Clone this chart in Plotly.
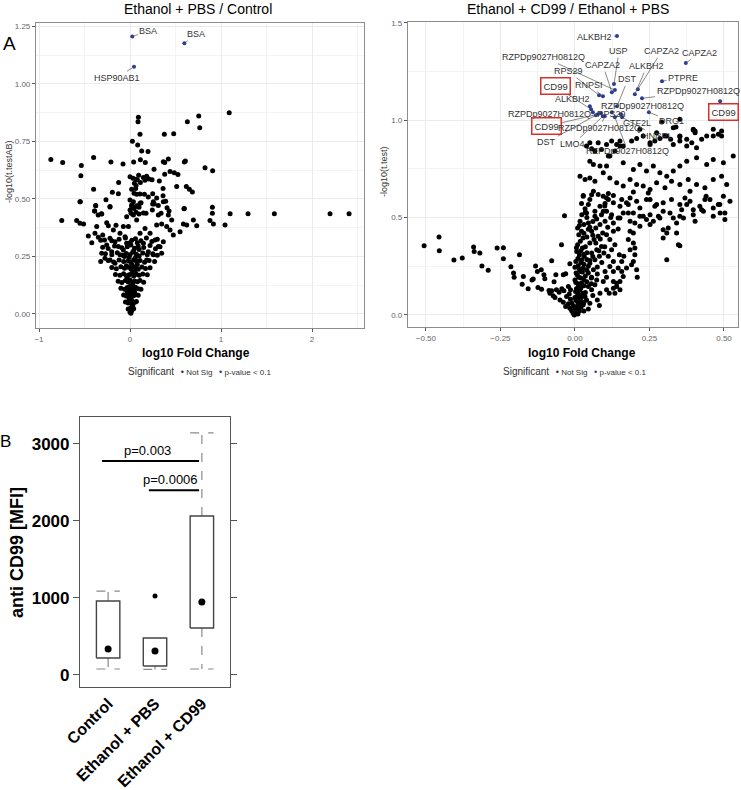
import plotly.graph_objects as go

# ---------------- DATA ----------------
# Panel A left: Ethanol + PBS / Control  (log10 FC, -log10 p)
left_points = [
    (-0.87, 0.672), (-0.74, 0.659), (-0.535, 0.645), (-0.54, 0.601), (-0.40, 0.680), (-0.40, 0.542),
    (-0.546, 0.488), (-0.21, 0.661), (-0.077, 0.652), (-0.125, 0.572), (-0.194, 0.529), (-0.128, 0.523),
    (-0.264, 0.497), (-0.377, 0.471), (-0.22, 0.465), (-0.388, 0.448), (-0.315, 0.436),
    (0.092, 0.855), (0.088, 0.836), (0.11, 0.781), (0.026, 0.751), (0.084, 0.735), (0.128, 0.709),
    (0.198, 0.706), (0.04, 0.661), (0.114, 0.670), (0.168, 0.659), (0.264, 0.629), (0.377, 0.781),
    (0.48, 0.784), (0.63, 0.836), (0.755, 0.861), (0.766, 0.81), (1.09, 0.875), (0.366, 0.662),
    (0.381, 0.658), (0.421, 0.674), (0.597, 0.661), (0.608, 0.665), (0.824, 0.636), (0.908, 0.623),
    (0.381, 0.607), (0.44, 0.619), (0.487, 0.614), (0.527, 0.606), (0.513, 0.554), (0.619, 0.554),
    (0.652, 0.542), (0.685, 0.530), (0.597, 0.458), (0.905, 0.464), (0.905, 0.438), (1.10, 0.436),
    (1.297, 0.436), (1.586, 0.436), (2.198, 0.436), (2.407, 0.436),
    (0.0, 0.597), (0.033, 0.590), (0.066, 0.586), (0.095, 0.603), (0.081, 0.583), (0.147, 0.593),
    (0.183, 0.599), (0.209, 0.587), (0.242, 0.583), (0.322, 0.578), (0.048, 0.568), (0.114, 0.572),
    (0.165, 0.581), (0.066, 0.558), (0.018, 0.542), (0.062, 0.546), (0.044, 0.525), (0.073, 0.520),
    (0.11, 0.522), (0.158, 0.520), (0.201, 0.509), (0.249, 0.523), (0.293, 0.504), (0.256, 0.488),
    (0.267, 0.478), (0.363, 0.546), (0.363, 0.514), (0.392, 0.490), (0.311, 0.472), (0.407, 0.462),
    (0.341, 0.438), (0.429, 0.448), (0.0, 0.496), (0.018, 0.467), (0.044, 0.459), (0.073, 0.470),
    (0.099, 0.464), (0.121, 0.483), (0.011, 0.438), (0.066, 0.442), (0.099, 0.435), (0.147, 0.439),
    (0.176, 0.438), (0.245, 0.452),
    (-0.75, 0.406), (-0.586, 0.406), (-0.55, 0.394), (-0.51, 0.391), (-0.55, 0.488), (-0.377, 0.472),
    (-0.39, 0.448), (-0.35, 0.43), (-0.31, 0.435), (-0.22, 0.467), (-0.366, 0.38), (-0.256, 0.397),
    (-0.238, 0.383), (-0.154, 0.386), (-0.458, 0.339), (-0.42, 0.31), (-0.385, 0.351), (-0.348, 0.333),
    (-0.30, 0.343), (-0.322, 0.32), (-0.183, 0.365), (-0.22, 0.329), (-0.165, 0.314), (-0.11, 0.351),
    (-0.055, 0.336), (-0.128, 0.293), (-0.201, 0.271), (-0.256, 0.30), (-0.311, 0.264), (-0.322, 0.228),
    (-0.275, 0.242), (-0.22, 0.235), (-0.165, 0.22), (-0.11, 0.257), (-0.073, 0.278), (-0.037, 0.307),
    (0.11, 0.481), (0.249, 0.478), (0.366, 0.488), (0.593, 0.457), (0.879, 0.406), (0.916, 0.391),
    (1.044, 0.387), (0.696, 0.409), (0.733, 0.383), (0.586, 0.391), (0.623, 0.387), (0.55, 0.357),
    (0.476, 0.343), (0.44, 0.365), (0.403, 0.38), (0.348, 0.391), (0.311, 0.43), (0.293, 0.387),
    (0.421, 0.43), (0.458, 0.409), (0.366, 0.314), (0.311, 0.293), (0.348, 0.264), (0.256, 0.257),
    (0.183, 0.235), (0.201, 0.271), (0.275, 0.322), (0.147, 0.307), (0.11, 0.351), (0.22, 0.351),
    (0.165, 0.372), (0.073, 0.409), (0.037, 0.43), (-0.037, 0.423), (0.0, 0.452), (-0.073, 0.38),
    (-0.018, 0.38), (0.018, 0.474), (0.066, 0.467), (0.037, 0.488),
    (-0.28, 0.322), (-0.2, 0.318), (-0.12, 0.325), (-0.05, 0.33), (0.02, 0.321), (0.06, 0.327),
    (0.12, 0.318), (0.18, 0.33), (0.24, 0.315), (0.3, 0.325),
    (-0.3, 0.29), (-0.24, 0.285), (-0.17, 0.296), (-0.09, 0.288), (-0.03, 0.292), (0.01, 0.3),
    (0.05, 0.286), (0.09, 0.295), (0.15, 0.289), (0.22, 0.298), (0.28, 0.284), (0.33, 0.292),
    (-0.27, 0.262), (-0.2, 0.258), (-0.14, 0.266), (-0.08, 0.255), (-0.04, 0.263), (0.0, 0.257),
    (0.03, 0.268), (0.07, 0.26), (0.1, 0.252), (0.14, 0.265), (0.19, 0.258), (0.25, 0.262), (0.3, 0.255),
    (-0.24, 0.232), (-0.18, 0.226), (-0.12, 0.235), (-0.07, 0.228), (-0.02, 0.231), (0.01, 0.224),
    (0.04, 0.236), (0.07, 0.229), (0.11, 0.233), (0.16, 0.225), (0.21, 0.232), (0.27, 0.228),
    (-0.2, 0.202), (-0.15, 0.197), (-0.1, 0.205), (-0.06, 0.199), (-0.02, 0.203), (0.01, 0.196),
    (0.03, 0.207), (0.06, 0.2), (0.09, 0.194), (0.13, 0.204), (0.17, 0.198), (0.22, 0.201),
    (-0.16, 0.172), (-0.11, 0.168), (-0.07, 0.175), (-0.04, 0.166), (-0.01, 0.171), (0.02, 0.177),
    (0.04, 0.165), (0.07, 0.173), (0.1, 0.168), (0.14, 0.174), (0.19, 0.17),
    (-0.13, 0.142), (-0.09, 0.137), (-0.05, 0.145), (-0.02, 0.139), (0.0, 0.148), (0.03, 0.136),
    (0.05, 0.143), (0.08, 0.14), (0.11, 0.146), (0.15, 0.138),
    (-0.1, 0.112), (-0.06, 0.108), (-0.03, 0.115), (-0.01, 0.106), (0.02, 0.113), (0.04, 0.109),
    (0.06, 0.116), (0.09, 0.11), (0.12, 0.107),
    (-0.07, 0.082), (-0.04, 0.078), (-0.02, 0.085), (0.0, 0.077), (0.02, 0.083), (0.04, 0.079),
    (0.06, 0.086), (0.09, 0.081),
    (-0.05, 0.052), (-0.02, 0.048), (0.0, 0.055), (0.02, 0.047), (0.03, 0.053), (0.05, 0.05), (0.07, 0.054),
    (-0.02, 0.022), (0.0, 0.018), (0.01, 0.027), (0.02, 0.015), (0.04, 0.023), (0.0, 0.008), (0.01, 0.003),
    (0.0, 0.12), (0.03, 0.125), (-0.03, 0.155), (0.05, 0.185), (0.02, 0.215), (-0.01, 0.245),
    (0.04, 0.275), (0.0, 0.31), (0.08, 0.31), (0.06, 0.245), (0.08, 0.215), (-0.04, 0.21),
    (-0.06, 0.25), (0.1, 0.28), (0.02, 0.06), (0.03, 0.035), (-0.01, 0.065), (0.05, 0.095),
    (0.01, 0.095), (-0.03, 0.095),
]
left_sig_x = [0.025, 0.597, 0.044]
left_sig_y = [1.206, 1.177, 1.075]
left_sig_labels = ["BSA", "BSA", "HSP90AB1"]

# Panel A right: Ethanol + CD99 / Ethanol + PBS
right_points = [
    (-0.506, 0.356), (-0.456, 0.40), (-0.455, 0.33), (-0.406, 0.282), (-0.378, 0.292), (-0.34, 0.349),
    (-0.338, 0.326), (-0.319, 0.318), (-0.312, 0.251), (-0.291, 0.23), (-0.261, 0.344), (-0.24, 0.345),
    (-0.24, 0.289), (-0.215, 0.247), (-0.206, 0.215), (-0.204, 0.194), (-0.186, 0.309), (-0.173, 0.198),
    (-0.177, 0.158), (-0.157, 0.134), (-0.144, 0.18), (-0.14, 0.184), (-0.132, 0.251), (-0.126, 0.223),
    (-0.124, 0.141), (-0.112, 0.132), (-0.113, 0.232), (-0.104, 0.206), (-0.101, 0.186), (-0.087, 0.125),
    (-0.078, 0.124), (-0.084, 0.112), (-0.073, 0.098), (-0.067, 0.089), (-0.078, 0.278), (-0.07, 0.17),
    (-0.064, 0.206), (-0.062, 0.129), (-0.053, 0.117), (-0.044, 0.134), (-0.037, 0.124), (-0.045, 0.361),
    (-0.039, 0.206), (-0.031, 0.211), (-0.035, 0.51), (-0.05, 0.077), (-0.039, 0.065), (-0.031, 0.043),
    (-0.022, 0.057), (-0.017, 0.034), (-0.011, 0.022), (-0.006, 0.009), (-0.002, 0.0), (-0.028, 0.095),
    (-0.019, 0.108), (-0.015, 0.129), (-0.022, 0.146), (-0.017, 0.263),
    (0.0, 0.026), (0.006, 0.043), (0.011, 0.06), (0.003, 0.077), (0.017, 0.086), (0.022, 0.069),
    (0.028, 0.052), (0.009, 0.098), (0.002, 0.12), (0.017, 0.129), (0.026, 0.112), (0.034, 0.094),
    (0.039, 0.077), (0.011, 0.146), (0.003, 0.167), (0.022, 0.163), (0.03, 0.18), (0.013, 0.194),
    (0.004, 0.215), (0.019, 0.223), (0.028, 0.241), (0.011, 0.253), (0.003, 0.275), (0.023, 0.283),
    (0.031, 0.301), (0.015, 0.309), (0.006, 0.326), (0.025, 0.344), (0.009, 0.361), (0.018, 0.378),
    (0.027, 0.395), (0.013, 0.412), (0.022, 0.43), (0.009, 0.447), (0.03, 0.464), (0.017, 0.481),
    (0.023, 0.515), (0.035, 0.527), (0.022, 0.572), (0.028, 0.613), (0.056, 0.618), (0.062, 0.636),
    (0.034, 0.545), (0.045, 0.567), (0.045, 0.146), (0.056, 0.129), (0.067, 0.155), (0.073, 0.18),
    (0.056, 0.194), (0.045, 0.215), (0.062, 0.232), (0.075, 0.246), (0.05, 0.266), (0.067, 0.283),
    (0.082, 0.301), (0.056, 0.318), (0.073, 0.335), (0.089, 0.352), (0.05, 0.369), (0.064, 0.387),
    (0.078, 0.404), (0.093, 0.421), (0.056, 0.43), (0.07, 0.447), (0.084, 0.464), (0.101, 0.481),
    (0.073, 0.493), (0.089, 0.515), (0.106, 0.533), (0.084, 0.558), (0.101, 0.572), (0.112, 0.593),
    (0.095, 0.61), (0.112, 0.624), (0.129, 0.613), (0.067, 0.533), (0.045, 0.472), (0.084, 0.112),
    (0.082, 0.048), (0.075, 0.077), (0.095, 0.172), (0.106, 0.194), (0.101, 0.223), (0.117, 0.249),
    (0.129, 0.275), (0.112, 0.301), (0.097, 0.318), (0.123, 0.335), (0.134, 0.361), (0.117, 0.387),
    (0.106, 0.412), (0.129, 0.43), (0.145, 0.442), (0.129, 0.472), (0.145, 0.498), (0.162, 0.524),
    (0.151, 0.558), (0.173, 0.576), (0.185, 0.601), (0.196, 0.631), (0.151, 0.172), (0.14, 0.146),
    (0.129, 0.137), (0.162, 0.198), (0.157, 0.223), (0.173, 0.241), (0.19, 0.258), (0.196, 0.275),
    (0.207, 0.232), (0.209, 0.194), (0.201, 0.309), (0.185, 0.335), (0.201, 0.344), (0.196, 0.369),
    (0.179, 0.387), (0.196, 0.421), (0.185, 0.43), (0.218, 0.455), (0.201, 0.472), (0.185, 0.481),
    (0.196, 0.524), (0.218, 0.55), (0.229, 0.507), (0.24, 0.49), (0.252, 0.464), (0.263, 0.481),
    (0.274, 0.567), (0.252, 0.593), (0.246, 0.627), (0.28, 0.507), (0.296, 0.533), (0.296, 0.438),
    (0.308, 0.421), (0.296, 0.395), (0.313, 0.447), (0.33, 0.498), (0.341, 0.472), (0.341, 0.421),
    (0.347, 0.361), (0.352, 0.356), (0.308, 0.283), (0.358, 0.541), (0.364, 0.498), (0.375, 0.567),
    (0.397, 0.541), (0.403, 0.481), (0.425, 0.541), (0.436, 0.593), (0.44, 0.61), (0.464, 0.55),
    (0.481, 0.567), (0.487, 0.524), (0.498, 0.61), (0.503, 0.49), (0.386, 0.636), (0.369, 0.601),
    (0.14, 0.163), (0.151, 0.129), (0.134, 0.112), (0.129, 0.172), (0.145, 0.241), (0.157, 0.275),
    (0.164, 0.301), (0.149, 0.309), (0.129, 0.223), (0.106, 0.129), (0.115, 0.112),
    (0.01, 0.005), (0.0, 0.015), (0.015, 0.02), (0.005, 0.035), (0.02, 0.04), (0.012, 0.05),
    (-0.005, 0.045), (0.03, 0.065), (0.008, 0.07), (0.018, 0.085), (0.0, 0.09), (0.025, 0.1),
    (0.01, 0.11), (0.035, 0.115), (0.005, 0.135), (0.02, 0.14), (0.03, 0.15), (0.012, 0.16),
    (0.04, 0.17), (0.0, 0.18), (0.02, 0.19), (0.035, 0.2), (0.008, 0.205), (0.025, 0.22),
    (0.04, 0.23), (0.015, 0.235), (0.0, 0.245), (0.03, 0.26), (0.02, 0.27), (0.04, 0.285),
    (0.01, 0.29), (0.03, 0.31), (0.04, 0.32), (0.02, 0.33), (0.035, 0.35), (0.005, 0.345),
    (0.04, 0.4), (0.03, 0.42), (0.045, 0.44), (0.015, 0.46), (0.04, 0.5), (0.06, 0.48),
    (0.05, 0.45), (0.06, 0.41), (0.07, 0.37), (0.08, 0.33), (0.06, 0.3), (0.05, 0.28),
    (0.045, 0.25), (0.055, 0.16), (0.06, 0.1), (0.05, 0.06), (0.045, 0.03), (-0.01, 0.06),
    (-0.015, 0.08), (0.03, 0.02), (0.055, 0.19), (0.075, 0.21), (0.09, 0.27), (0.1, 0.35),
    (0.085, 0.39), (0.11, 0.45), (0.12, 0.5), (0.1, 0.56),
    (0.339, 0.966), (0.352, 0.916), (0.397, 0.95), (0.403, 0.936), (0.464, 0.954), (0.481, 0.928),
    (0.492, 0.945), (0.33, 0.876), (0.352, 0.893), (0.375, 0.868), (0.392, 0.885), (0.408, 0.859),
    (0.425, 0.902), (0.442, 0.919), (0.308, 0.919), (0.321, 0.902), (0.274, 0.936), (0.285, 0.906),
    (0.252, 0.876), (0.268, 0.893), (0.218, 0.954), (0.229, 0.919), (0.19, 0.893), (0.207, 0.906),
    (0.151, 0.893), (0.162, 0.868), (0.14, 0.876), (0.106, 0.876), (0.123, 0.893), (0.05, 0.885),
    (0.078, 0.885), (0.067, 0.842), (0.089, 0.85), (0.112, 0.816), (0.05, 0.79), (0.062, 0.773),
    (0.084, 0.765), (0.106, 0.765), (0.162, 0.782), (0.196, 0.747), (0.218, 0.773), (0.24, 0.739),
    (0.263, 0.765), (0.285, 0.73), (0.308, 0.713), (0.33, 0.739), (0.352, 0.765), (0.375, 0.79),
    (0.408, 0.808), (0.442, 0.773), (0.464, 0.799), (0.498, 0.782), (0.531, 0.816), (0.017, 0.713),
    (0.034, 0.696), (0.05, 0.704), (0.067, 0.687), (0.095, 0.73), (0.117, 0.704), (0.14, 0.679),
    (0.162, 0.662), (0.185, 0.696), (0.207, 0.67), (0.229, 0.662), (0.252, 0.644), (0.274, 0.679),
    (0.302, 0.653), (0.324, 0.687), (0.352, 0.67), (0.38, 0.696), (0.408, 0.67), (0.436, 0.653),
    (0.464, 0.696), (0.492, 0.713), (0.509, 0.67), (0.028, 0.61), (0.05, 0.593), (0.078, 0.619),
    (0.106, 0.601), (0.129, 0.576), (0.157, 0.593), (0.179, 0.567), (0.207, 0.584), (0.24, 0.593),
    (0.268, 0.558), (0.296, 0.576), (0.324, 0.593), (0.352, 0.567), (0.386, 0.584), (0.419, 0.558),
    (0.453, 0.593), (0.486, 0.567), (0.52, 0.584), (0.039, 0.524), (0.067, 0.507), (0.095, 0.533),
    (0.123, 0.515), (0.151, 0.498), (0.179, 0.524), (0.218, 0.507), (0.252, 0.515), (0.285, 0.498),
    (0.319, 0.524), (0.352, 0.507), (0.397, 0.515), (0.431, 0.533), (0.464, 0.507), (0.503, 0.524),
    (0.291, 0.991), (0.33, 0.962), (0.352, 1.005), (0.397, 0.954), (0.403, 0.945), (0.464, 0.919),
    (0.492, 0.919), (0.352, 0.919), (0.375, 0.902), (0.302, 0.919), (0.252, 0.885), (0.151, 0.868),
    (0.134, 0.842), (0.117, 0.816), (0.039, 0.868), (0.056, 0.854),
]
right_sig_labels = ["ALKBH2", "RZPDp9027H0812Q", "USP", "CAPZA2", "CAPZA2", "CAPZA2", "ALKBH2", "DST",
                    "PTPRE", "RPS29", "RNPSI", "RZPDp9027H0812Q", "ALKBH2", "CD99", "RZPDp9027H0812Q",
                    "CD99", "RZPDp9027H0812Q", "RPS29", "GTF2L", "DRG1", "CD99", "RZPDp9027H0812Q",
                    "DST", "LMO4", "HNRPL", "RZPDp9027H0812Q"]
right_sig_x = [0.141, 0.134, 0.131, 0.124, 0.211, 0.372, 0.201, 0.141, 0.292, 0.081, 0.094, 0.225, 0.05,
               0.054, 0.124, 0.487, 0.06, 0.087, 0.154, 0.248, 0.077, 0.10, 0.07, 0.094, 0.158, 0.134]
right_sig_y = [1.433, 1.155, 1.186, 1.144, 1.160, 1.294, 1.134, 1.072, 1.201, 1.129, 1.124, 1.113, 1.072,
               1.057, 1.041, 1.098, 1.041, 1.036, 1.031, 1.041, 1.031, 1.021, 1.026, 1.021, 1.015, 1.015]
# label offsets (pixels) from each point
right_label_dx = [-22, -71, 5, -9, 24, 14, 12, 11, 21, -31, -14, 56, -17, -36, 31, 3, -43, 11, 16, 23, -51, -5, -49, -30, 35, 13]
right_label_dy = [1, -33, -33, -27, -38, -10, -28, -27, -3, -24, -11, -7, -7, -23, -6, 11, 2, 1, 9, 9, 12, 12, 27, 28, 19, 34]

# Panel B: box plot summary (anti CD99 MFI)
groups = ["Control", "Ethanol + PBS", "Ethanol + CD99"]
box_q1 = [220, 117, 610]
box_q3 = [961, 480, 2065]
whisk_lo = [78, 72, 78]
whisk_hi = [1090, 480, 3143]
center_pt = [337, 312, 948]
outliers = [[], [1026], []]
brackets = [(1, 3, 2780, "p=0.003"), (2, 3, 2400, "p=0.0006")]

# ---------------- FIGURE ----------------
W, H = 741, 790
FONT = "Liberation Sans, Arial, sans-serif"
BLUE = "#2b3d8f"
GRID = "#ebebeb"
MINOR = "#f4f4f4"
BORDER = "#8c8c8c"

fig = go.Figure()

def px_x(p):
    return p / W

def px_y(p):
    return 1 - p / H

lx = [p[0] for p in left_points]
ly = [p[1] for p in left_points]
rx = [p[0] for p in right_points]
ry = [p[1] for p in right_points]

fig.add_trace(go.Scatter(x=lx, y=ly, mode="markers", name="Not Sig", xaxis="x", yaxis="y",
                         marker=dict(color="black", size=5), showlegend=False))
fig.add_trace(go.Scatter(x=left_sig_x, y=left_sig_y, mode="markers", name="p-value < 0.1", xaxis="x", yaxis="y",
                         marker=dict(color=BLUE, size=4), showlegend=False))
fig.add_trace(go.Scatter(x=rx, y=ry, mode="markers", name="Not Sig", xaxis="x2", yaxis="y2",
                         marker=dict(color="black", size=5), showlegend=False))
fig.add_trace(go.Scatter(x=right_sig_x, y=right_sig_y, mode="markers", name="p-value < 0.1", xaxis="x2", yaxis="y2",
                         marker=dict(color=BLUE, size=4), showlegend=False))

# Box plot traces
bw = 0.25
box_x, box_y, wh_x, wh_y = [], [], [], []
for i, g in enumerate(groups):
    c = i + 1
    box_x += [c - bw, c + bw, c + bw, c - bw, c - bw, None]
    box_y += [box_q1[i], box_q1[i], box_q3[i], box_q3[i], box_q1[i], None]
    wh_x += [c, c, None, c - bw, c + bw, None]
    wh_y += [box_q1[i], whisk_lo[i], None, whisk_lo[i], whisk_lo[i], None]
    if whisk_hi[i] > box_q3[i]:
        wh_x += [c, c, None, c - bw, c + bw, None]
        wh_y += [box_q3[i], whisk_hi[i], None, whisk_hi[i], whisk_hi[i], None]

fig.add_trace(go.Scatter(x=wh_x, y=wh_y, mode="lines", xaxis="x3", yaxis="y3", showlegend=False,
                         line=dict(color="#8a8a8a", width=1.2, dash="dash")))
fig.add_trace(go.Scatter(x=box_x, y=box_y, mode="lines", xaxis="x3", yaxis="y3", showlegend=False,
                         line=dict(color="#444444", width=1.4)))
fig.add_trace(go.Scatter(x=[1, 2, 3], y=center_pt, mode="markers", xaxis="x3", yaxis="y3", showlegend=False,
                         marker=dict(color="black", size=7)))
ox, oy = [], []
for i, lst in enumerate(outliers):
    for v in lst:
        ox.append(i + 1)
        oy.append(v)
fig.add_trace(go.Scatter(x=ox, y=oy, mode="markers", xaxis="x3", yaxis="y3", showlegend=False,
                         marker=dict(color="black", size=5)))
# significance brackets
bx, by = [], []
for (g1, g2, yv, t) in brackets:
    bx += [g1 - 0.13, g2 - 0.06, None]
    by += [yv, yv, None]
fig.add_trace(go.Scatter(x=bx, y=by, mode="lines", xaxis="x3", yaxis="y3", showlegend=False,
                         line=dict(color="black", width=2)))

annotations = []
# bracket labels
for (g1, g2, yv, t) in brackets:
    annotations.append(dict(x=(g1 + g2) / 2 - 0.15 if g1 == 1 else (g1 + g2) / 2 - 0.18, y=yv, xref="x3", yref="y3",
                            text=t, showarrow=False, xanchor="center", yanchor="bottom", yshift=1,
                            font=dict(family=FONT, size=13, color="black")))

# left labels
left_dx = [16, 12, -17]
left_dy = [-6, -9, 11]
for x, y, t, dx, dy in zip(left_sig_x, left_sig_y, left_sig_labels, left_dx, left_dy):
    annotations.append(dict(x=x, y=y, xref="x", yref="y", text=t, showarrow=True, arrowhead=0,
                            arrowwidth=0.7, arrowcolor="#555", ax=dx, ay=dy, standoff=1,
                            font=dict(family=FONT, size=9, color="#333")))
# right labels
for x, y, t, dx, dy in zip(right_sig_x, right_sig_y, right_sig_labels, right_label_dx, right_label_dy):
    a = dict(x=x, y=y, xref="x2", yref="y2", text=t, showarrow=True, arrowhead=0,
             arrowwidth=0.7, arrowcolor="#555", ax=dx, ay=dy, standoff=1,
             font=dict(family=FONT, size=9, color="#333"))
    if t == "CD99":
        a.update(bordercolor="#d9302c", borderwidth=1.5, borderpad=2, font=dict(family=FONT, size=9.5, color="#333"))
    annotations.append(a)

legend_text = ("<span style='font-size:10px'>Significant</span>   "
               "<span style='font-size:9px'>\u2022</span> Not Sig   "
               "<span style='font-size:9px;color:%s'>\u2022</span> p-value &lt; 0.1" % BLUE)

def pa(x, y, text, size, color="black", angle=0):
    return dict(x=px_x(x), y=px_y(y), xref="paper", yref="paper", text=text, showarrow=False,
                xanchor="center", yanchor="middle", textangle=angle,
                font=dict(family=FONT, size=size, color=color))

# Titles and axis titles
annotations += [
    pa(198, 9, "Ethanol + PBS / Control", 14),
    pa(568, 9, "Ethanol + CD99 / Ethanol + PBS", 14),
    pa(9, 44, "A", 19),
    pa(5, 441, "B", 17),
    pa(9, 172, "-log10(t.testAB)", 9, "#333", -90),
    pa(384, 172, "-log10(t.test)", 9, "#333", -90),
    pa(196, 353, "<b>log10 Fold Change</b>", 12),
    pa(582, 353, "<b>log10 Fold Change</b>", 12),
    pa(200, 371, legend_text, 8, "#333"),
    pa(575, 371, legend_text, 8, "#333"),
    pa(17, 553, "<b>anti CD99 [MFI]</b>", 18, "black", -90),
]

def volcano_axes(dom, rng, dtick, minor_dtick, fmt, anchor):
    return dict(domain=dom, range=rng, dtick=dtick, tick0=0, tickformat=fmt, showgrid=True,
                gridcolor=GRID, gridwidth=1, zeroline=False, showline=True, mirror=True,
                linecolor=BORDER, linewidth=1.2, ticks="outside", ticklen=3, tickcolor="#555",
                tickfont=dict(family=FONT, size=8, color="#666"), anchor=anchor, automargin=False,
                minor=dict(dtick=minor_dtick, tick0=0, showgrid=True, gridcolor=MINOR, gridwidth=0.6, ticklen=0))

fig.update_layout(
    width=W, height=H, margin=dict(l=0, r=0, t=0, b=0, autoexpand=False),
    paper_bgcolor="white", plot_bgcolor="white", showlegend=False,
    xaxis=volcano_axes([px_x(36), px_x(364)], [-1.033, 2.571], 1, 0.5, "d", "y"),
    yaxis=volcano_axes([px_y(328), px_y(23)], [-0.061, 1.265], 0.25, 0.125, ".2f", "x"),
    xaxis2=volcano_axes([px_x(408), px_x(738)], [-0.56, 0.547], 0.25, 0.125, ".2f", "y2"),
    yaxis2=volcano_axes([px_y(327), px_y(22)], [-0.062, 1.505], 0.5, 0.25, ".1f", "x2"),
    xaxis3=dict(domain=[px_x(80), px_x(230)], range=[0.4, 3.6], anchor="y3", tickmode="array",
                tickvals=[1, 2, 3], ticktext=groups, tickangle=-45, showgrid=False, zeroline=False,
                showline=True, mirror=True, linecolor="#555", linewidth=1.2, ticks="", automargin=False,
                tickfont=dict(family=FONT, size=16, color="black", weight="bold")),
    yaxis3=dict(domain=[px_y(687), px_y(417)], range=[-156, 3350], anchor="x3", tickvals=[0, 1000, 2000, 3000],
                showgrid=False, zeroline=False, showline=True, mirror="allticks", linecolor="#555", linewidth=1.2,
                ticks="outside", ticklen=6, tickcolor="#555", automargin=False,
                tickfont=dict(family=FONT, size=17, color="black", weight="bold")),
    annotations=annotations,
)

fig.write_html("out.html", config={"displayModeBar": False},
               post_script="document.body.style.margin='0px';")
